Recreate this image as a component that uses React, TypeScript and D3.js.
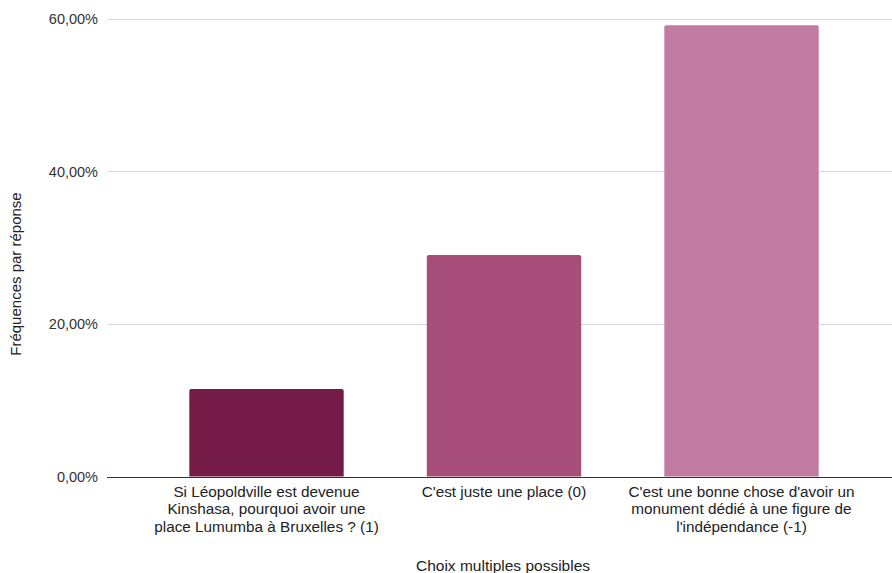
import * as d3 from "d3";
import { useEffect, useRef } from "react";

const categories = [
  "Si Léopoldville est devenue Kinshasa, pourquoi avoir une place Lumumba à Bruxelles ? (1)",
  "C'est juste une place (0)",
  "C'est une bonne chose d'avoir un monument dédié à une figure de l'indépendance (-1)",
];
const labelLines = [
  ["Si Léopoldville est devenue", "Kinshasa, pourquoi avoir une", "place Lumumba à Bruxelles ? (1)"],
  ["C'est juste une place (0)"],
  ["C'est une bonne chose d'avoir un", "monument dédié à une figure de", "l'indépendance (-1)"],
];
const values = [0.1148, 0.2905, 0.5917];
const barColors = ["#741b47", "#a64d79", "#c27ba0"];
const yTicks = [0, 0.2, 0.4, 0.6];

const width = 892;
const height = 573;

export default function App() {
  const svgRef = useRef<SVGSVGElement>(null);

  useEffect(() => {
    if (!svgRef.current) return;
    const svg = d3.select(svgRef.current);
    svg.selectAll("*").remove();

    const font = "'Liberation Sans', Arial, sans-serif";
    const plotLeft = 107;
    const plotRight = 892;
    const top = 19;
    const bottom = 476.5;

    const x = d3
      .scaleBand<string>()
      .domain(categories)
      .range([147.75, 860.25])
      .paddingInner(0.35)
      .paddingOuter(0.175);

    const y = d3.scaleLinear().domain([0, 0.6]).range([bottom, top]);
    const fmt = (d: number) => (d * 100).toFixed(2).replace(".", ",") + "%";

    // Grid lines
    svg
      .append("g")
      .selectAll("line")
      .data(yTicks.filter((d) => d > 0))
      .enter()
      .append("line")
      .attr("x1", plotLeft)
      .attr("x2", plotRight)
      .attr("y1", (d) => Math.round(y(d)) + 0.5)
      .attr("y2", (d) => Math.round(y(d)) + 0.5)
      .style("stroke", "#d9d9d9")
      .style("stroke-width", 1);

    // Tick labels
    svg
      .append("g")
      .selectAll("text")
      .data(yTicks)
      .enter()
      .append("text")
      .attr("x", 98)
      .attr("y", (d) => y(d))
      .attr("dy", "0.35em")
      .attr("text-anchor", "end")
      .style("font-family", font)
      .style("font-size", "14.5px")
      .style("fill", "#333")
      .text((d) => fmt(d));

    // Bars with rounded top corners
    const r = 2;
    svg
      .append("g")
      .selectAll("path")
      .data(values)
      .enter()
      .append("path")
      .attr("d", (d, i) => {
        const x0 = x(categories[i])!;
        const x1 = x0 + x.bandwidth();
        const y0 = y(d);
        const y1 = y(0);
        return `M${x0},${y1}V${y0 + r}Q${x0},${y0} ${x0 + r},${y0}H${x1 - r}Q${x1},${y0} ${x1},${y0 + r}V${y1}Z`;
      })
      .style("fill", (_, i) => barColors[i]);

    // Baseline
    svg
      .append("line")
      .attr("x1", plotLeft)
      .attr("x2", plotRight)
      .attr("y1", Math.round(bottom) + 0.5)
      .attr("y2", Math.round(bottom) + 0.5)
      .style("stroke", "#333")
      .style("stroke-width", 1);

    // Category labels
    const lab = svg.append("g");
    labelLines.forEach((lines, i) => {
      const cx = x(categories[i])! + x.bandwidth() / 2;
      const t = lab
        .append("text")
        .attr("text-anchor", "middle")
        .style("font-family", font)
        .style("font-size", "15.3px")
        .style("fill", "#222");
      lines.forEach((ln, j) => {
        t.append("tspan")
          .attr("x", cx)
          .attr("y", 496.5 + j * 17.5)
          .text(ln);
      });
    });

    // Axis titles
    svg
      .append("text")
      .attr("x", 503)
      .attr("y", 570.5)
      .attr("text-anchor", "middle")
      .style("font-family", font)
      .style("font-size", "15.5px")
      .style("fill", "#222")
      .text("Choix multiples possibles");

    svg
      .append("text")
      .attr("transform", `translate(21,274) rotate(-90)`)
      .attr("text-anchor", "middle")
      .style("font-family", font)
      .style("font-size", "15px")
      .style("fill", "#222")
      .text("Fréquences par réponse");
  }, []);

  return (
    <svg
      ref={svgRef}
      width={width}
      height={height}
      style={{ position: "absolute", left: 0, top: 0, background: "#fff" }}
    />
  );
}
